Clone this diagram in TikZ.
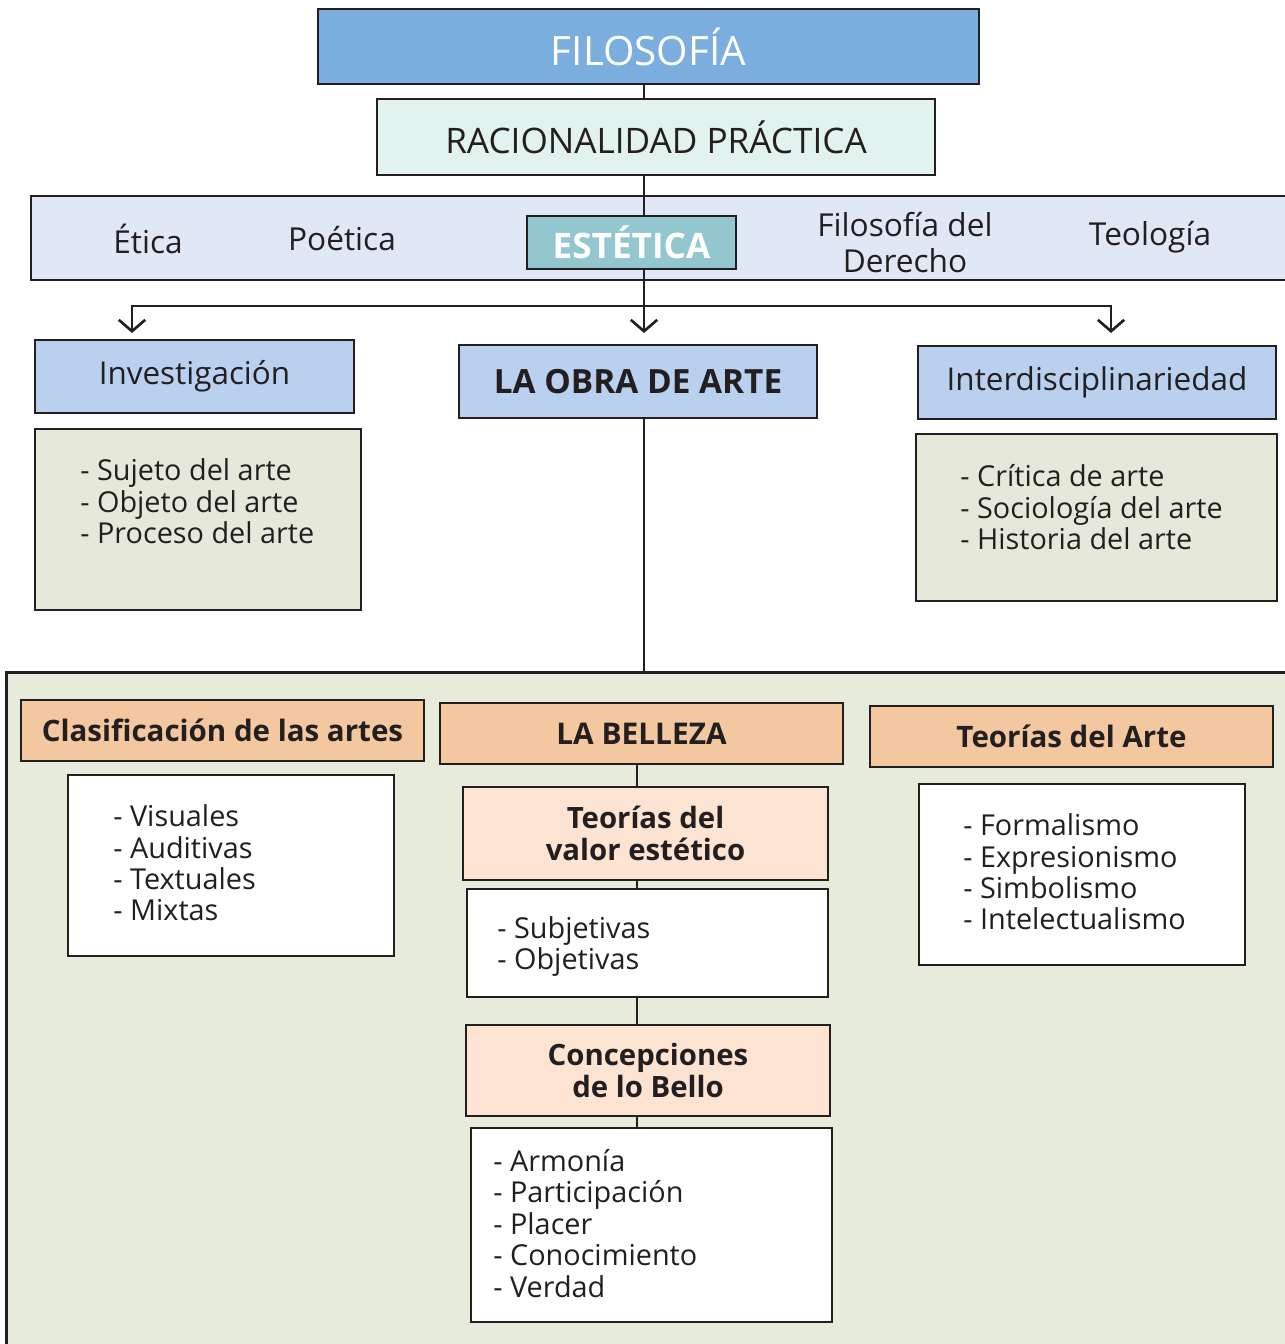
\documentclass[tikz,border=0pt]{standalone}
\usepackage{fontspec}
\setmainfont{Open Sans}
\usepackage{tikz}
\usetikzlibrary{arrows.meta,positioning}
\definecolor{fildark}{RGB}{35,31,32}
\definecolor{filblue}{RGB}{123,174,222}
\definecolor{filmint}{RGB}{226,242,238}
\definecolor{filband}{RGB}{224,231,245}
\definecolor{filteal}{RGB}{146,199,207}
\definecolor{fillightblue}{RGB}{185,209,238}
\definecolor{filgreen}{RGB}{230,233,217}
\definecolor{filpanel}{RGB}{231,235,220}
\definecolor{filpeach}{RGB}{243,199,160}
\definecolor{fillightpeach}{RGB}{253,227,209}
\tikzstyle{box} = [rectangle, draw=fildark, line width=1.1pt, inner sep=0pt, text=fildark]
\tikzstyle{titlebox} = [box, fill=filblue, text=white, font=\fontsize{23}{28}\selectfont]
\tikzstyle{subbox} = [box, fill=filmint, font=\fontsize{20}{24}\selectfont]
\tikzstyle{bandtext} = [inner sep=0pt, align=center, text=fildark, font=\fontsize{18}{20.5}\selectfont]
\tikzstyle{area} = [box, fill=fillightblue, font=\fontsize{17.9}{21}\selectfont]
\tikzstyle{listbox} = [box, fill=filgreen]
\tikzstyle{whitebox} = [box, fill=white]
\tikzstyle{listtext} = [anchor=west, align=left, inner sep=0pt, text=fildark, font=\fontsize{16.4}{17.9}\selectfont]
\tikzstyle{head} = [box, fill=filpeach, font=\bfseries\fontsize{16.8}{18.2}\selectfont]
\tikzstyle{subhead} = [box, fill=fillightpeach, align=center, font=\bfseries\fontsize{16.7}{18.2}\selectfont]
\tikzstyle{conn} = [line width=1.5pt, draw=fildark]
\tikzstyle{arrow} = [conn, -{Straight Barb[length=6.5pt,width=15pt,line width=1.5pt]}]

\begin{document}
\begin{tikzpicture}[x=0.02cm, y=-0.02cm]
\useasboundingbox (0,0) rectangle (1284,1344);
\coordinate (eje) at (644,0);
\coordinate (eje2) at (637,0);

% Top of the tree
\node (filo) [titlebox, minimum width=13.22cm, minimum height=1.5cm] at (648.5,46.5) {FILOSOFÍA};
\node (racio) [subbox, minimum width=11.16cm, minimum height=1.52cm] at (656,137) {RACIONALIDAD PRÁCTICA};
\node (band) [box, fill=filband, minimum width=25.26cm, minimum height=1.68cm] at (662.5,238) {};
\node (etica) [bandtext] at (148,239) {Ética};
\node (poetica) [bandtext] at (342,239) {Poética};
\node (estet) [box, fill=filteal, text=white, font=\bfseries\fontsize{20}{22}\selectfont, minimum width=4.18cm, minimum height=1.06cm] at (631.5,242.5) {ESTÉTICA};
\node (derecho) [bandtext] at (905,243) {Filosofía del\\Derecho};
\node (teologia) [bandtext] at (1150,237) {Teología};

\draw[conn] (filo.south -| eje) -- (racio.north -| eje);
\draw[conn] (racio.south -| eje) -- (estet.north -| eje);

% Branches
\coordinate (split) at (644,306);
\coordinate (tinv) at (132,333);
\coordinate (tobra) at (644,333);
\coordinate (tinter) at (1111,333);
\draw[conn] (estet.south -| split) -- (split);
\draw[arrow] (split) -| (tinv);
\draw[arrow] (split) -| (tinter);
\draw[arrow] (split) -- (tobra);

\node (inv) [area, minimum width=6.38cm, minimum height=1.46cm] at (194.5,376.5) {Investigación};
\node (obra) [area, font=\bfseries\fontsize{19}{22}\selectfont, minimum width=7.16cm, minimum height=1.46cm] at (638,381.5) {LA OBRA DE ARTE};
\node (inter) [area, minimum width=7.16cm, minimum height=1.46cm] at (1097,382.5) {Interdisciplinariedad};

\node (invlist) [listbox, minimum width=6.52cm, minimum height=3.62cm] at (198,519.5) {};
\node [listtext] at (80,501.5) {- Sujeto del arte\\- Objeto del arte\\- Proceso del arte};
\node (interlist) [listbox, minimum width=7.22cm, minimum height=3.34cm] at (1096.5,517.5) {};
\node [listtext] at (960,507.5) {- Crítica de arte\\- Sociología del arte\\- Historia del arte};

% Lower panel
\node (panel) [box, fill=filpanel, line width=1.7pt, minimum width=25.88cm, minimum height=13.76cm] at (653,1016) {};
\draw[conn] (obra.south -| eje) -- (panel.north -| eje);

\node (clas) [head, minimum width=8.06cm, minimum height=1.22cm] at (222.5,730.5) {Clasificación de las artes};
\node (claslist) [whitebox, minimum width=6.52cm, minimum height=3.62cm] at (231,865.5) {};
\node [listtext] at (113,863) {- Visuales\\- Auditivas\\- Textuales\\- Mixtas};

\node (belleza) [head, font=\bfseries\fontsize{17}{18.2}\selectfont, minimum width=8.06cm, minimum height=1.22cm] at (641.5,733.5) {LA BELLEZA};
\node (valor) [subhead, minimum width=7.3cm, minimum height=1.86cm] at (645.5,833.5) {Teorías del\\valor estético};
\node (vallist) [whitebox, minimum width=7.22cm, minimum height=2.16cm] at (647.5,943) {};
\node [listtext] at (497,946.5) {- Subjetivas\\- Objetivas};
\node (conc) [subhead, minimum width=7.28cm, minimum height=1.82cm] at (648,1070.5) {Concepciones\\de lo Bello};
\node (conclist) [whitebox, minimum width=7.22cm, minimum height=3.88cm] at (651.5,1225) {};
\node [listtext] at (493,1223.5) {- Armonía\\- Participación\\- Placer\\- Conocimiento\\- Verdad};

\draw[conn] (belleza.south -| eje2) -- (valor.north -| eje2);
\draw[conn] (valor.south -| eje2) -- (vallist.north -| eje2);
\draw[conn] (vallist.south -| eje2) -- (conc.north -| eje2);
\draw[conn] (conc.south -| eje2) -- (conclist.north -| eje2);

\node (teoarte) [head, minimum width=8.06cm, minimum height=1.22cm] at (1071.5,736.5) {Teorías del Arte};
\node (teolist) [whitebox, minimum width=6.52cm, minimum height=3.62cm] at (1082,874.5) {};
\node [listtext] at (963,872) {- Formalismo\\- Expresionismo\\- Simbolismo\\- Intelectualismo};
\end{tikzpicture}
\end{document}
